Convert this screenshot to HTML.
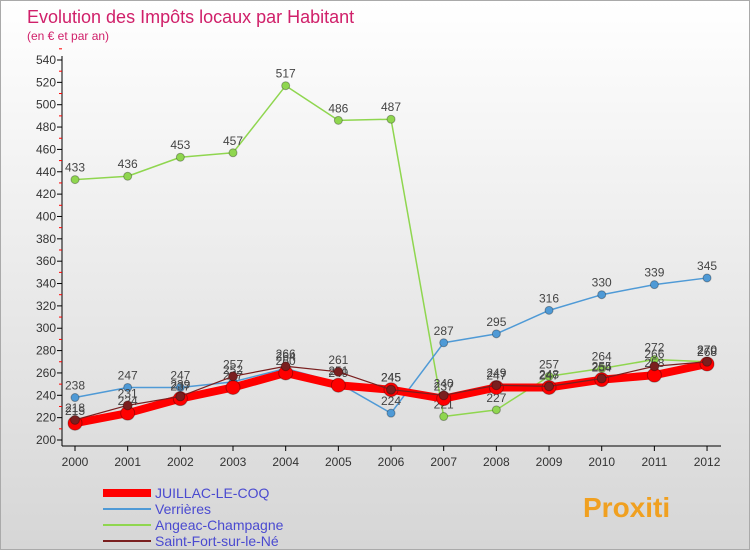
<!DOCTYPE html>
<html><head><meta charset="utf-8"><style>
body{margin:0;width:750px;height:550px;overflow:hidden;font-family:"Liberation Sans",sans-serif;}
#wrap{position:relative;width:748px;height:548px;border:1px solid #aaa;background:linear-gradient(#fff,#d6d6d6);}
</style></head><body>
<div id="wrap">
<svg id="chart" width="748" height="548"></svg>
</div>
<script>
const years=[2000,2001,2002,2003,2004,2005,2006,2007,2008,2009,2010,2011,2012];
const juillac=[215,224,237,247,260,249,245,237,247,247,254,258,268];
const verrieres=[238,247,247,252,264,251,224,287,295,316,330,339,345];
const angeac=[433,436,453,457,517,486,487,221,227,257,264,272,270];
const saintfort=[218,231,239,257,266,261,245,240,249,248,255,266,270];
const yTicks=[200,220,240,260,280,300,320,340,360,380,400,420,440,460,480,500,520,540];
const NS="http://www.w3.org/2000/svg";
const svg=document.getElementById('chart');
const X=i=>74+i*52.67, Y=v=>439-(v-200)*380/340;
function el(t,a,p){const e=document.createElementNS(NS,t);for(const k in a)e.setAttribute(k,a[k]);(p||svg).appendChild(e);return e;}
let t=el('text',{x:26,y:22,'font-size':18,fill:'#d0206a'});t.textContent='Evolution des Impôts locaux par Habitant';

t=el('text',{x:26,y:39,'font-size':12,fill:'#d0206a'});t.textContent='(en € et par an)';

// axes
let ax=el('line',{x1:61,y1:55,x2:61,y2:445,stroke:'#000'});

ax=el('line',{x1:61,y1:445,x2:720,y2:445,stroke:'#000'});

yTicks.forEach(v=>{el('line',{x1:56,x2:61,y1:Y(v),y2:Y(v),stroke:'#000'});
el('line',{x1:58,x2:61,y1:Y(v+10),y2:Y(v+10),stroke:'#f00'});
const tt=el('text',{x:55,y:Y(v)+4,'font-size':12,'text-anchor':'end',fill:'#333'});tt.textContent=v;
});
years.forEach((y,i)=>{el('line',{x1:X(i),x2:X(i),y1:445,y2:450,stroke:'#000'});
const tt=el('text',{x:X(i),y:465,'font-size':12,'text-anchor':'middle',fill:'#333'});tt.textContent=y;
});
function series(data,color,w,r,name,lbl){
const g=el('g',{});
el('polyline',{points:data.map((v,i)=>X(i)+','+Y(v)).join(' '),fill:'none',stroke:color,'stroke-width':w,'stroke-linejoin':'round'},g);
data.forEach((v,i)=>{const c=el('circle',{cx:X(i),cy:Y(v),r:r,fill:color,stroke:'rgba(0,0,0,0.3)'},g);

const tx=el('text',{x:X(i),y:Y(v)-8,'font-size':12,'text-anchor':'middle',fill:'#444'},g);tx.textContent=v;
});}
series(angeac,'#8fd64f',1.5,4,'angeac-series');
series(verrieres,'#4f9ad6',1.5,4,'verrieres-series');
series(juillac,'#ff0000',8,7,'juillac-series');
series(saintfort,'#7a1f1f',1.2,4.5,'saint-fort-series');
const leg=[['JUILLAC-LE-COQ','#ff0000',8],['Verrières','#4f9ad6',2],['Angeac-Champagne','#8fd64f',2],['Saint-Fort-sur-le-Né','#7a1f1f',2]];
leg.forEach((l,i)=>{const y=492+i*16;const g=el('g',{});
el('line',{x1:102,x2:150,y1:y,y2:y,stroke:l[1],'stroke-width':l[2]},g);
const tx=el('text',{x:154,y:y+5,'font-size':14,fill:'#4a4ad0'},g);tx.textContent=l[0];});
const lg=el('text',{x:582,y:516,'font-size':28,'font-weight':'bold',fill:'#f0a020'});lg.textContent='Proxiti';

</script>
</body></html>
